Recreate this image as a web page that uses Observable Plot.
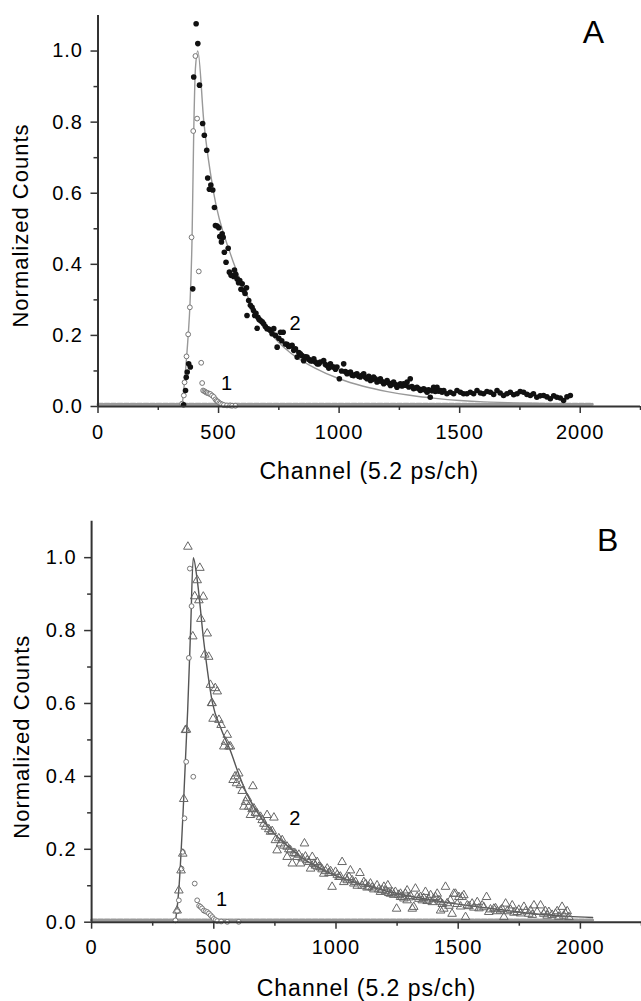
<!DOCTYPE html>
<html><head><meta charset="utf-8">
<script src="https://cdn.jsdelivr.net/npm/d3@7"></script>
<script src="https://cdn.jsdelivr.net/npm/@observablehq/plot@0.6"></script>
<style>body{margin:0;background:#fff;} svg{display:block;}</style>
</head><body><div id="a"></div><div id="b"></div>
<script>
const xMajorTicks = [0, 500, 1000, 1500, 2000];
const xMinorTicks = [250, 750, 1250, 1750, 2250];
const yMajorTicks = [0, 0.2, 0.4, 0.6, 0.8, 1.0];
const yMinorTicks = [0.1, 0.3, 0.5, 0.7, 0.9];
const xTitle = "Channel (5.2 ps/ch)";
const yTitle = "Normalized Counts";
const baseline = [[0, 0.006], [2050, 0.006]];

// Panel A: sample (filled dots), IRF (open circles), fit curve
const aSample = [[355,0.005],[363,0.045],[366,0.082],[370,0.097],[376,0.12],[383,0.111],[393,0.331],[397,0.927],[407,1.077],[414,1.021],[421,0.904],[434,0.796],[441,0.763],[451,0.721],[455,0.643],[462,0.611],[468,0.623],[476,0.609],[483,0.56],[487,0.509],[494,0.508],[501,0.503],[505,0.478],[508,0.478],[512,0.463],[515,0.486],[519,0.476],[524,0.434],[531,0.406],[540,0.445],[545,0.378],[552,0.369],[563,0.366],[566,0.384],[571,0.372],[577,0.359],[583,0.348],[588,0.354],[593,0.33],[598,0.345],[605,0.326],[610,0.318],[616,0.334],[618,0.256],[625,0.298],[632,0.285],[639,0.279],[645,0.27],[650,0.256],[655,0.262],[660,0.22],[663,0.251],[668,0.245],[674,0.242],[681,0.238],[687,0.233],[694,0.225],[701,0.219],[708,0.218],[715,0.214],[722,0.205],[729,0.219],[736,0.2],[743,0.167],[750,0.192],[757,0.209],[762,0.185],[768,0.209],[777,0.176],[784,0.175],[791,0.169],[798,0.17],[805,0.172],[812,0.158],[819,0.162],[826,0.139],[833,0.152],[839,0.148],[846,0.143],[853,0.129],[860,0.14],[867,0.139],[874,0.133],[881,0.129],[888,0.128],[895,0.134],[902,0.125],[909,0.12],[916,0.12],[922,0.125],[936,0.129],[943,0.118],[950,0.115],[957,0.108],[964,0.12],[971,0.112],[978,0.111],[985,0.105],[991,0.111],[1001,0.078],[1010,0.1],[1019,0.12],[1026,0.098],[1033,0.092],[1040,0.095],[1047,0.097],[1054,0.088],[1060,0.087],[1067,0.09],[1074,0.092],[1081,0.085],[1088,0.083],[1095,0.088],[1102,0.092],[1109,0.082],[1116,0.078],[1123,0.085],[1130,0.073],[1137,0.076],[1143,0.083],[1150,0.078],[1157,0.069],[1164,0.072],[1171,0.078],[1178,0.07],[1185,0.064],[1192,0.068],[1199,0.073],[1206,0.066],[1213,0.059],[1220,0.064],[1226,0.069],[1233,0.062],[1240,0.054],[1247,0.06],[1254,0.064],[1261,0.058],[1268,0.064],[1275,0.06],[1282,0.069],[1289,0.055],[1295,0.078],[1302,0.056],[1309,0.05],[1316,0.052],[1323,0.054],[1330,0.05],[1337,0.045],[1344,0.048],[1351,0.05],[1358,0.046],[1365,0.04],[1371,0.047],[1378,0.026],[1385,0.044],[1392,0.054],[1399,0.042],[1406,0.054],[1413,0.043],[1420,0.045],[1427,0.04],[1434,0.045],[1447,0.036],[1461,0.04],[1475,0.036],[1489,0.045],[1503,0.04],[1516,0.036],[1530,0.036],[1544,0.04],[1558,0.036],[1572,0.045],[1586,0.038],[1599,0.036],[1613,0.042],[1627,0.04],[1641,0.034],[1655,0.045],[1668,0.038],[1682,0.031],[1696,0.036],[1710,0.04],[1724,0.033],[1738,0.036],[1751,0.042],[1765,0.04],[1779,0.034],[1793,0.031],[1806,0.036],[1820,0.026],[1834,0.03],[1848,0.031],[1862,0.027],[1876,0.022],[1890,0.03],[1903,0.026],[1917,0.024],[1931,0.017],[1945,0.027],[1959,0.031]];
const aIrf = [[349,0.008],[356,0.031],[359,0.068],[367,0.141],[374,0.203],[381,0.279],[388,0.476],[395,0.775],[404,0.986],[411,0.81],[418,0.38],[428,0.123],[432,0.066],[436,0.045],[441,0.043],[446,0.041],[450,0.039],[455,0.038],[461,0.036],[466,0.035],[473,0.031],[480,0.027],[487,0.02],[492,0.016],[497,0.014],[503,0.01],[508,0.008],[515,0.006],[522,0.004],[535,0.003],[548,0.003],[556,0.002],[570,0.002]];
const aFit = [[349,0],[359,0.07],[374,0.2],[381,0.28],[390,0.47],[397,0.77],[404,0.95],[414,1.0],[439,0.8],[480,0.6],[549,0.43],[600,0.34],[650,0.27],[700,0.22],[750,0.18],[800,0.15],[900,0.108],[1000,0.078],[1100,0.057],[1200,0.042],[1300,0.031],[1400,0.023],[1500,0.017],[1600,0.013],[1700,0.011],[1800,0.009],[1900,0.008],[2050,0.007]];
const aLabels = [{x: 819, y: 0.233, t: "2"}, {x: 535, y: 0.064, t: "1"}];

// Panel B: sample (open triangles), IRF (open circles), fit curve
const bSample = [[350,0.032],[357,0.087],[366,0.142],[373,0.188],[377,0.338],[384,0.527],[388,0.528],[394,1.03],[414,0.784],[422,0.894],[432,0.938],[439,0.883],[443,0.972],[447,0.832],[457,0.893],[463,0.734],[473,0.792],[479,0.728],[486,0.651],[491,0.601],[493,0.601],[497,0.558],[506,0.642],[514,0.633],[521,0.555],[530,0.541],[541,0.482],[548,0.495],[555,0.514],[562,0.482],[568,0.482],[579,0.39],[587,0.4],[593,0.381],[602,0.408],[609,0.376],[616,0.36],[623,0.317],[630,0.33],[637,0.34],[643,0.317],[650,0.294],[657,0.31],[660,0.373],[664,0.312],[670,0.3],[677,0.298],[691,0.289],[698,0.28],[705,0.27],[712,0.262],[718,0.294],[725,0.255],[732,0.248],[739,0.25],[746,0.287],[752,0.225],[759,0.197],[766,0.23],[773,0.216],[780,0.225],[787,0.21],[800,0.207],[800,0.179],[807,0.2],[814,0.197],[821,0.161],[828,0.19],[834,0.188],[841,0.179],[848,0.185],[855,0.161],[862,0.175],[871,0.216],[875,0.18],[882,0.17],[889,0.165],[896,0.147],[903,0.179],[910,0.16],[916,0.155],[923,0.165],[930,0.152],[937,0.15],[943,0.145],[950,0.133],[957,0.14],[964,0.147],[971,0.135],[978,0.14],[984,0.097],[998,0.138],[1005,0.13],[1012,0.124],[1018,0.125],[1025,0.165],[1032,0.11],[1039,0.12],[1046,0.115],[1053,0.124],[1059,0.142],[1066,0.115],[1073,0.106],[1080,0.11],[1087,0.1],[1098,0.135],[1107,0.1],[1114,0.11],[1121,0.105],[1127,0.095],[1134,0.097],[1141,0.106],[1148,0.095],[1155,0.09],[1168,0.101],[1175,0.09],[1182,0.083],[1189,0.088],[1196,0.097],[1203,0.085],[1212,0.101],[1216,0.08],[1223,0.078],[1230,0.082],[1236,0.075],[1243,0.083],[1248,0.037],[1257,0.075],[1264,0.069],[1264,0.078],[1271,0.07],[1278,0.065],[1284,0.078],[1291,0.06],[1291,0.087],[1298,0.068],[1305,0.072],[1312,0.037],[1318,0.042],[1325,0.092],[1332,0.069],[1339,0.064],[1346,0.069],[1353,0.06],[1359,0.066],[1366,0.083],[1373,0.058],[1380,0.062],[1387,0.074],[1394,0.055],[1400,0.064],[1407,0.069],[1414,0.078],[1421,0.06],[1428,0.055],[1428,0.032],[1435,0.05],[1441,0.037],[1448,0.097],[1455,0.052],[1462,0.045],[1468,0.06],[1475,0.023],[1482,0.078],[1489,0.078],[1496,0.05],[1503,0.069],[1510,0.043],[1516,0.069],[1523,0.074],[1530,0.014],[1537,0.046],[1544,0.044],[1557,0.051],[1564,0.04],[1578,0.055],[1585,0.038],[1598,0.046],[1605,0.041],[1616,0.069],[1625,0.028],[1632,0.035],[1646,0.037],[1653,0.038],[1660,0.03],[1673,0.032],[1680,0.036],[1687,0.014],[1694,0.051],[1701,0.03],[1714,0.034],[1721,0.046],[1728,0.026],[1741,0.028],[1748,0.034],[1755,0.024],[1769,0.042],[1776,0.03],[1789,0.023],[1796,0.032],[1803,0.02],[1810,0.046],[1823,0.028],[1837,0.046],[1850,0.023],[1857,0.03],[1864,0.018],[1871,0.028],[1884,0.02],[1898,0.023],[1905,0.03],[1912,0.015],[1925,0.042],[1932,0.018],[1939,0.023],[1946,0.03],[1953,0.014]];
const bIrf = [[343,0.005],[350,0.03],[357,0.06],[368,0.147],[373,0.193],[380,0.285],[387,0.44],[398,0.725],[402,0.97],[409,0.867],[416,0.399],[422,0.106],[432,0.06],[440,0.045],[446,0.042],[452,0.038],[459,0.032],[466,0.03],[473,0.028],[480,0.024],[487,0.019],[494,0.014],[500,0.009],[507,0.006],[514,0.003],[530,0.002],[555,0.001],[602,0.001]];
const bFit = [[343,0],[357,0.09],[377,0.34],[393,0.58],[405,0.8],[416,1.0],[432,0.94],[459,0.77],[495,0.6],[530,0.53],[568,0.47],[600,0.41],[637,0.35],[680,0.3],[718,0.265],[800,0.21],[855,0.18],[991,0.13],[1100,0.105],[1196,0.087],[1300,0.072],[1400,0.06],[1537,0.046],[1700,0.032],[1810,0.023],[1950,0.016],[2050,0.013]];
const bLabels = [{x: 834, y: 0.285, t: "2"}, {x: 534, y: 0.062, t: "1"}];

function panel(o) {
  const font = {fontSize: 20};
  return Plot.plot({
    width: 641, height: o.height,
    marginTop: o.marginTop, marginBottom: o.marginBottom,
    marginLeft: o.marginLeft, marginRight: o.marginRight,
    x: {domain: [0, 2250]},
    y: {domain: [0, 1.1]},
    style: {fontFamily: "'Liberation Sans', Arial, sans-serif", fontSize: "20px", color: "#000", letterSpacing: "1px", background: "#fff"},
    marks: [
      Plot.line(baseline, {x: d => d[0], y: d => d[1], stroke: "#9a9a9a", strokeWidth: 3, strokeDasharray: "5,1.5"}),
      Plot.line(o.fit, {x: d => d[0], y: d => d[1], stroke: o.fitStroke, strokeWidth: 1.4, curve: "monotone-x"}),
      Plot.dot(o.irf, {x: d => d[0], y: d => d[1], r: 2.4, symbol: "circle", stroke: "#777", fill: "white", strokeWidth: 1}),
      Plot.dot(o.sample, {x: d => d[0], y: d => d[1], r: o.sampleR, symbol: o.sampleSymbol, fill: o.sampleFill, stroke: o.sampleStroke, strokeWidth: 1}),
      Plot.ruleX([0], {stroke: "#333", strokeWidth: 2}),
      Plot.ruleY([0], {stroke: "#333", strokeWidth: 2}),
      Plot.axisX({ticks: xMajorTicks, tickSize: 7, tickPadding: 11, tickFormat: d => String(d), label: null, stroke: "#333", strokeWidth: 1.5, ...font}),
      Plot.axisX({ticks: xMinorTicks, tickSize: 4, tickFormat: () => "", label: null, stroke: "#333", strokeWidth: 1.5}),
      Plot.axisY({ticks: yMajorTicks, tickSize: 7, tickPadding: 8, tickFormat: ".1f", label: null, stroke: "#333", strokeWidth: 1.5, ...font}),
      Plot.axisY({ticks: yMinorTicks, tickSize: 4, tickFormat: () => "", label: null, stroke: "#333", strokeWidth: 1.5}),
      Plot.text(o.labels, {x: "x", y: "y", text: "t", fontSize: 20}),
      Plot.text([yTitle], {text: d => d, frameAnchor: "left", rotate: -90, dx: o.yTitleDx, dy: o.yTitleDy, fontSize: 22, textAnchor: "middle", lineAnchor: "middle"}),
      Plot.text([xTitle], {text: d => d, frameAnchor: "bottom", dy: o.xTitleDy, fontSize: 23, textAnchor: "middle", lineAnchor: "middle"}),
      Plot.text([o.letter], {text: d => d, frameAnchor: "top-right", dx: o.letterDx, dy: o.letterDy, fontSize: 32, textAnchor: "middle", lineAnchor: "middle"})
    ]
  });
}

document.getElementById("a").append(panel({
  height: 495, marginTop: 15, marginBottom: 89, marginLeft: 97.5, marginRight: 1,
  sample: aSample, sampleSymbol: "circle", sampleFill: "#111", sampleStroke: "none", sampleR: 2.8,
  irf: aIrf, fit: aFit, fitStroke: "#999", labels: aLabels, letter: "A",
  yTitleDx: -77.5, yTitleDy: 14.5, xTitleDy: 65.5, letterDx: -46.5, letterDy: 17.5
}));
document.getElementById("b").append(panel({
  height: 506, marginTop: 25.7, marginBottom: 79.3, marginLeft: 91.1, marginRight: 0,
  sample: bSample, sampleSymbol: "triangle", sampleFill: "none", sampleStroke: "#666", sampleR: 3.2,
  irf: bIrf, fit: bFit, fitStroke: "#555", labels: bLabels, letter: "B",
  yTitleDx: -70, yTitleDy: 15, xTitleDy: 66, letterDx: -33.3, letterDy: 19.8
}));
</script>
</body></html>
